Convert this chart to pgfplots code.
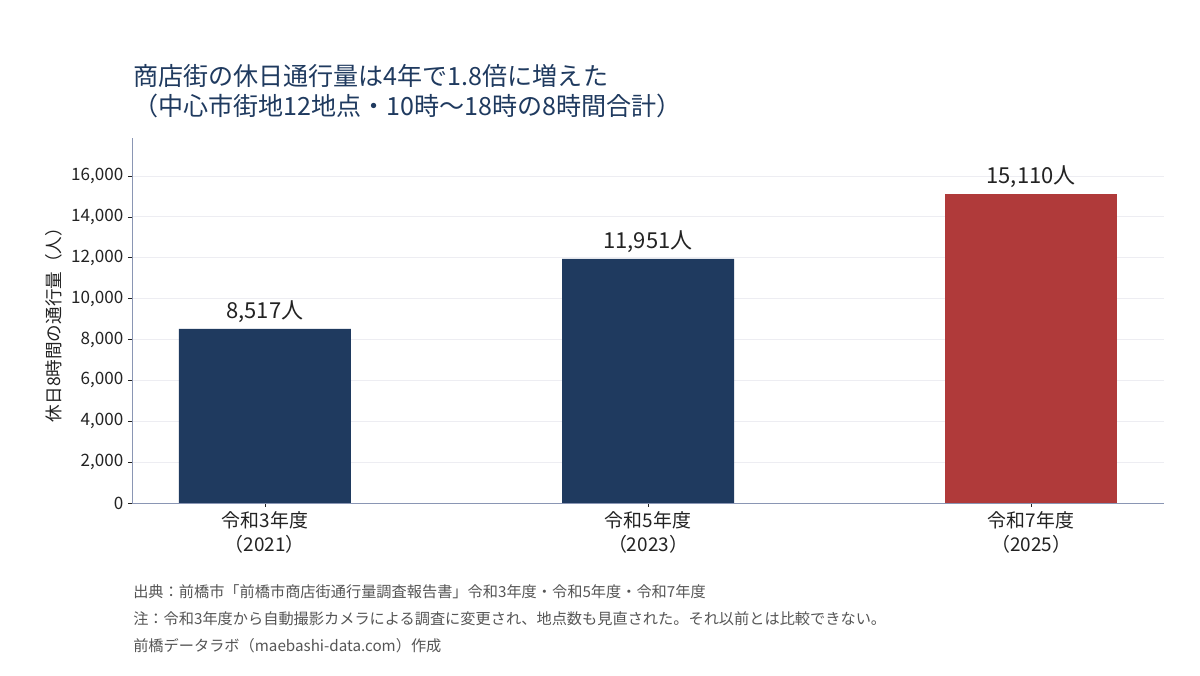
\documentclass[border=0pt]{standalone}
\usepackage{pgfplots}
\pgfplotsset{compat=1.18}
\usepackage{fontspec}
\setmainfont{Noto Sans CJK JP}

\definecolor{navy}{HTML}{1F3A5F}
\definecolor{brick}{HTML}{B03A3A}
\definecolor{axisline}{HTML}{8A96B4}
\definecolor{gridc}{HTML}{EDEDF2}
\definecolor{txt}{HTML}{222222}
\definecolor{note}{HTML}{555555}

\begin{document}
\begin{tikzpicture}
% page = 1200 x 675 px, 1 px = 0.75pt
\path[use as bounding box] (0,0) rectangle (900pt,506.25pt);

\node[anchor=base west, inner sep=0pt, text=navy, font=\fontsize{18.8}{22}\selectfont]
  at (99.75pt,441.75pt) {商店街の休日通行量は4年で1.8倍に増えた};
\node[anchor=base west, inner sep=0pt, text=navy, font=\fontsize{18.8}{22}\selectfont]
  at (99.75pt,419.25pt) {（中心市街地12地点・10時〜18時の8時間合計）};

\begin{axis}[
    at={(99pt,129pt)}, anchor=south west,
    scale only axis,
    width=774pt, height=273.75pt,
    ybar, bar width=129pt, bar shift=0pt,
    xmin=-0.347, xmax=2.347,
    ymin=0, ymax=17860,
    xtick={0,1,2},
    xticklabels={{令和3年度\\（2021）},{令和5年度\\（2023）},{令和7年度\\（2025）}},
    xticklabel style={align=center, font=\fontsize{14.2}{18}\selectfont, text=txt},
    ytick={0,2000,...,16000},
    yticklabel style={font=\fontsize{12.8}{14}\selectfont, text=txt},
    scaled y ticks=false,
    /pgf/number format/.cd, 1000 sep={,}, assume math mode=true, /pgfplots/.cd,
    ylabel={休日8時間の通行量（人）},
    ylabel style={font=\fontsize{13.2}{15}\selectfont, text=txt},
    axis x line*=bottom, axis y line*=left,
    axis line style={axisline},
    tick style={txt, thin},
    tick align=outside,
    major tick length=3pt,
    ymajorgrids, grid style={gridc, line width=0.6pt},
    nodes near coords={\pgfmathprintnumber{\pgfplotspointmeta}人},
    nodes near coords style={font=\fontsize{16.5}{18}\selectfont, text=txt, yshift=1pt},
]
\addplot[fill=navy, draw=none] coordinates {(0,8517) (1,11951)};
\addplot[fill=brick, draw=none] coordinates {(2,15110)};
\end{axis}

\node[anchor=west, inner sep=0pt, text=note, font=\fontsize{11.4}{13}\selectfont] at (99.75pt,62.25pt)
  {出典：前橋市「前橋市商店街通行量調査報告書」令和3年度・令和5年度・令和7年度};
\node[anchor=west, inner sep=0pt, text=note, font=\fontsize{11.4}{13}\selectfont] at (99.75pt,42pt)
  {注：令和3年度から自動撮影カメラによる調査に変更され、地点数も見直された。それ以前とは比較できない。};
\node[anchor=west, inner sep=0pt, text=note, font=\fontsize{11.4}{13}\selectfont] at (99.75pt,21.75pt)
  {前橋データラボ（maebashi-data.com）作成};
\end{tikzpicture}
\end{document}
